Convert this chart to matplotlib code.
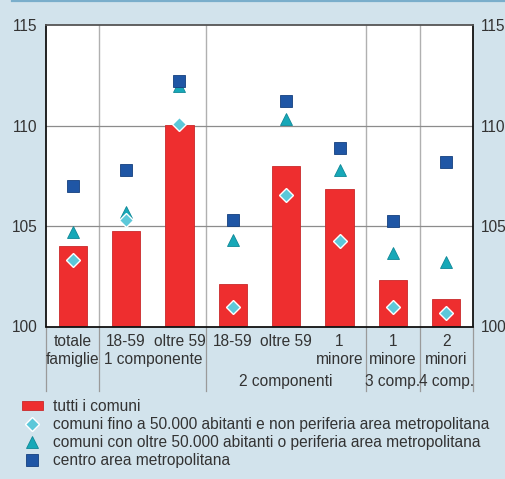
import matplotlib
matplotlib.use("Agg")
import matplotlib.pyplot as plt
from matplotlib.lines import Line2D
from matplotlib.patches import Patch
import matplotlib.transforms as mtransforms

plt.rcParams['font.family'] = ['Liberation Sans', 'DejaVu Sans']

# Indici per tipologia familiare
row1 = ["totale", "18-59", "oltre 59", "18-59", "oltre 59", "1", "1", "2"]
row2 = ["famiglie", "", "", "", "", "minore", "minore", "minori"]
group_labels = ["1 componente", "2 componenti", "3 comp.", "4 comp."]
group_spans = [(1, 2), (3, 5), (6, 6), (7, 7)]
group_rows = [2, 3, 3, 3]
separators = [-0.5, 0.5, 2.5, 5.5, 6.5, 7.5]

tutti = [104.0, 104.75, 110.0, 102.1, 108.0, 106.85, 102.3, 101.35]
fino50 = [103.3, 105.3, 110.05, 100.95, 106.55, 104.25, 100.95, 100.65]
oltre50 = [104.7, 105.7, 111.95, 104.3, 110.3, 107.8, 103.65, 103.2]
centro = [107.0, 107.8, 112.2, 105.3, 111.2, 108.9, 105.25, 108.2]

legend_labels = [
    "tutti i comuni",
    "comuni fino a 50.000 abitanti e non periferia area metropolitana",
    "comuni con oltre 50.000 abitanti o periferia area metropolitana",
    "centro area metropolitana",
]

BG = "#d2e3ec"
TXT = "#333333"
RED = "#ee2e2f"
DIAM = "#5cc8d9"
TRI = "#17a8b8"
SQ = "#1f56a5"
FS = 11.2

fig = plt.figure(figsize=(5.05, 4.79), dpi=100, facecolor=BG)
ax = fig.add_axes([46 / 505, 1 - 326.5 / 479, 427 / 505, 301.5 / 479])
ax.set_facecolor("white")

# linea decorativa in alto
fig.add_artist(Line2D([12 / 505, 1], [1 - 0.8 / 479, 1 - 0.8 / 479],
                      transform=fig.transFigure, color="#7aaecb", lw=1.6))

x = list(range(len(tutti)))
ax.set_xlim(-0.5, len(tutti) - 0.5)
ax.set_ylim(100, 115)

for s in separators[1:-1]:
    ax.axvline(s, color="#b0b0b0", lw=1.0, zorder=1)
for yv in (105, 110):
    ax.axhline(yv, color="#8c8c8c", lw=0.9, zorder=1)

ax.bar(x, [v - 100 for v in tutti], bottom=100, width=0.53, color=RED,
       edgecolor="#c9292a", linewidth=0.6, zorder=2)
ax.plot(x, oltre50, ls="none", marker="^", ms=9, color=TRI,
        markeredgecolor="#0f8796", markeredgewidth=0.6, zorder=3)
ax.plot(x, centro, ls="none", marker="s", ms=8, color=SQ,
        markeredgecolor="#143f7e", markeredgewidth=0.6, zorder=4)
ax.plot(x, fino50, ls="none", marker="D", ms=7.5, color=DIAM,
        markeredgecolor="white", markeredgewidth=1.0, zorder=5)

for side in ("left", "right", "top", "bottom"):
    ax.spines[side].set_color("#111111")
    ax.spines[side].set_linewidth(1.3)
ax.spines["top"].set_color("#555555")

ax.set_yticks([100, 105, 110, 115])
ax.tick_params(axis="y", length=0, labelsize=FS, labelcolor=TXT, pad=6,
               right=True, labelright=True)
ax.set_xticks([])

# etichette delle categorie sotto l'asse
trans = mtransforms.blended_transform_factory(ax.transData, ax.transAxes)
row_y = {1: -0.050, 2: -0.111, 3: -0.183}
for i in x:
    ax.text(i, row_y[1], row1[i], transform=trans, ha="center", va="center",
            fontsize=FS, color=TXT)
    if row2[i]:
        ax.text(i, row_y[2], row2[i], transform=trans, ha="center", va="center",
                fontsize=FS, color=TXT)
for lab, (a, b), r in zip(group_labels, group_spans, group_rows):
    ax.text((a + b) / 2, row_y[r], lab, transform=trans, ha="center",
            va="center", fontsize=FS, color=TXT)
for s in separators:
    ax.add_line(Line2D([s, s], [0, -0.214], transform=trans, color="#9a9a9a",
                       lw=0.9, clip_on=False))

handles = [
    Patch(facecolor=RED, edgecolor="#c9292a", linewidth=0.6),
    Line2D([], [], ls="none", marker="D", ms=7.5, color=DIAM,
           markeredgecolor="white", markeredgewidth=1.0),
    Line2D([], [], ls="none", marker="^", ms=9, color=TRI,
           markeredgecolor="#0f8796", markeredgewidth=0.6),
    Line2D([], [], ls="none", marker="s", ms=8, color=SQ,
           markeredgecolor="#143f7e", markeredgewidth=0.6),
]
leg = fig.legend(handles, legend_labels, loc="upper left",
                 bbox_to_anchor=(21.5 / 505, 1 - 399 / 479), frameon=False,
                 fontsize=FS, labelcolor=TXT, handlelength=1.4,
                 handleheight=0.5, handletextpad=0.65, labelspacing=0.2,
                 borderaxespad=0, borderpad=0)

fig.savefig("out.png", dpi=100, facecolor=BG)
